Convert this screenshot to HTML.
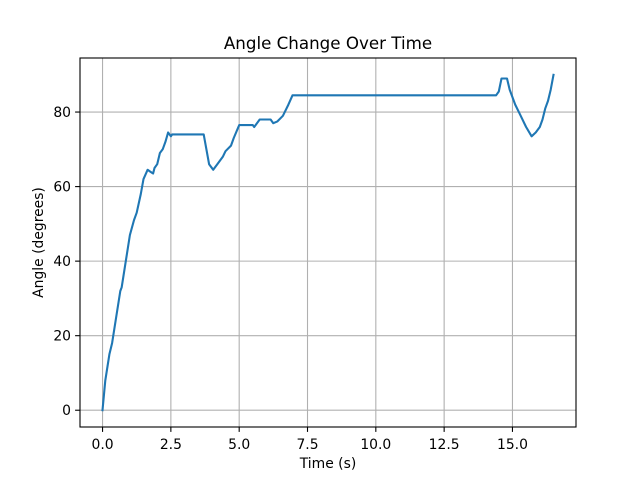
<!DOCTYPE html>
<html><head><meta charset="utf-8"><style>body{margin:0;background:#fff}svg{display:block;font-family:"DejaVu Sans","Liberation Sans",sans-serif}</style></head>
<body>
<svg id="chart" width="640" height="480"></svg>
<script>
const times=[0,0.1,0.25,0.35,0.5,0.65,0.7,0.85,1.0,1.15,1.25,1.4,1.5,1.65,1.75,1.85,1.9,2.0,2.1,2.2,2.3,2.4,2.5,2.55,3.7,3.8,3.9,4.05,4.2,4.4,4.5,4.7,4.8,5.0,5.5,5.55,5.75,6.15,6.25,6.4,6.6,6.8,6.95,14.4,14.5,14.6,14.8,14.9,15.1,15.3,15.5,15.7,15.85,16.0,16.1,16.2,16.3,16.4,16.5];
const angles=[0,8,15,18,25,32,33,40,47,51,53,58,62,64.5,64,63.5,65,66,69,70,72,74.5,73.5,74,74,70,66,64.5,66,68,69.5,71,73,76.5,76.5,76,78,78,77,77.5,79,82,84.5,84.5,85.5,89,89,86,82,79,76,73.5,74.5,76,78,81,83,86,90];
const xTicks=[0,2.5,5,7.5,10,12.5,15];
const xTickLabels=["0.0","2.5","5.0","7.5","10.0","12.5","15.0"];
const yTicks=[0,20,40,60,80];
const yTickLabels=["0","20","40","60","80"];
const L=80,R=576,T=58,B=427;
const xmin=-0.825,xmax=17.325,ymin=-4.5,ymax=94.5;
const X=v=>L+(v-xmin)/(xmax-xmin)*(R-L);
const Y=v=>B-(v-ymin)/(ymax-ymin)*(B-T);
const svg=document.getElementById('chart');
const NS='http://www.w3.org/2000/svg';
function mk(tag,attrs,parent){const e=document.createElementNS(NS,tag);for(const k in attrs)e.setAttribute(k,attrs[k]);(parent||svg).appendChild(e);return e;}
xTicks.forEach((t,i)=>{
  const g=mk('line',{x1:X(t),x2:X(t),y1:T,y2:B,stroke:'#b0b0b0','stroke-width':1.1});
  
  
  const tk=mk('line',{x1:X(t),x2:X(t),y1:B,y2:B+4.9,stroke:'#000','stroke-width':1.1});
  
  
  const tx=mk('text',{x:X(t),y:B+22,'font-size':13.9,'text-anchor':'middle'});
  tx.textContent=xTickLabels[i];
  
  
});
yTicks.forEach((t,i)=>{
  const g=mk('line',{x1:L,x2:R,y1:Y(t),y2:Y(t),stroke:'#b0b0b0','stroke-width':1.1});
  
  
  const tk=mk('line',{x1:L-4.9,x2:L,y1:Y(t),y2:Y(t),stroke:'#000','stroke-width':1.1});
  
  
  const tx=mk('text',{x:L-9,y:Y(t)+5,'font-size':13.9,'text-anchor':'end'});
  tx.textContent=yTickLabels[i];
  
  
});
const pts=times.map((t,i)=>X(t).toFixed(1)+','+Y(angles[i]).toFixed(1)).join(' ');
const line=mk('polyline',{points:pts,fill:'none',stroke:'#1f77b4','stroke-width':2.1,'stroke-linejoin':'round','stroke-linecap':'square'});


const fr=mk('rect',{x:L,y:T,width:R-L,height:B-T,fill:'none',stroke:'#000','stroke-width':1.1});


const ti=mk('text',{x:(L+R)/2,y:T-9,'font-size':16.7,'text-anchor':'middle'});
ti.textContent='Angle Change Over Time';


const xl=mk('text',{x:(L+R)/2,y:B+41,'font-size':13.9,'text-anchor':'middle'});
xl.textContent='Time (s)';


const yl=mk('text',{x:0,y:0,'font-size':13.9,'text-anchor':'middle',transform:`translate(43,${(T+B)/2}) rotate(-90)`});
yl.textContent='Angle (degrees)';


</script>
</body></html>
